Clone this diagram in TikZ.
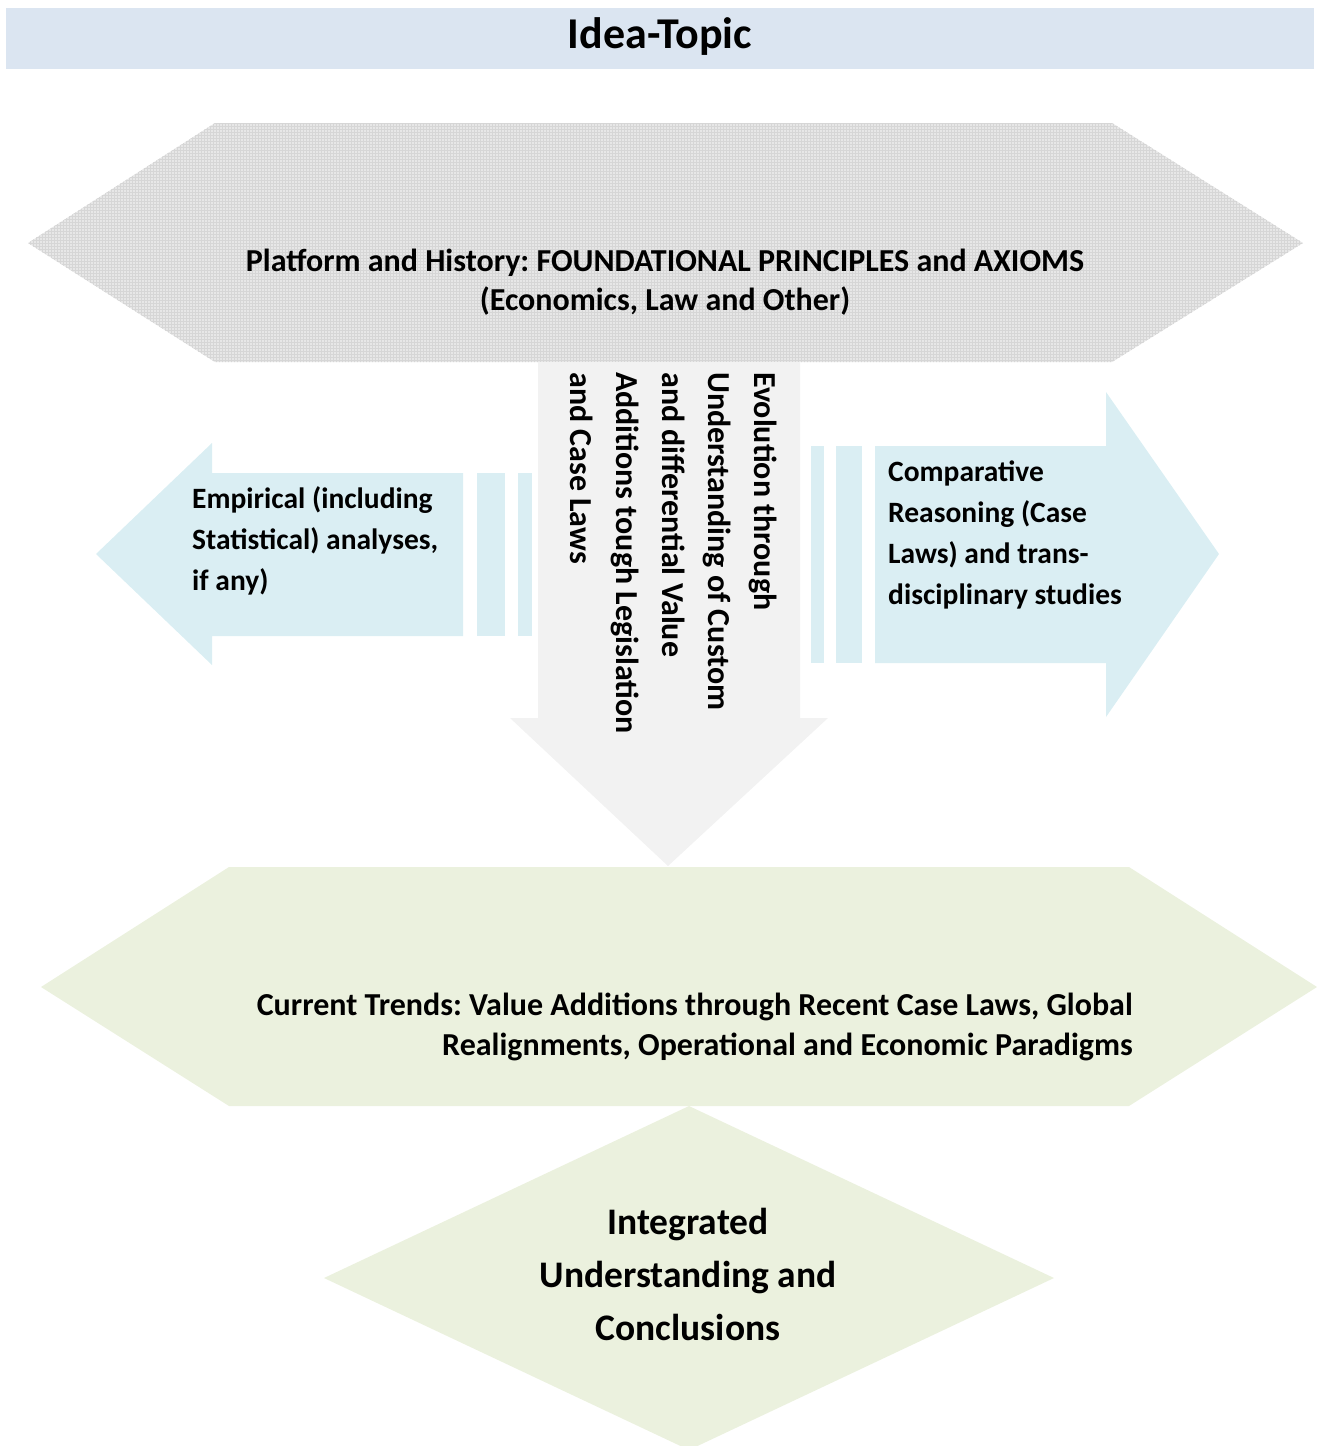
\documentclass[tikz,border=0pt]{standalone}
\usepackage{fontspec}
\usetikzlibrary{patterns}
\setmainfont{Carlito}
\frenchspacing
\definecolor{bannerfill}{HTML}{DBE5F1}
\definecolor{hexgray}{HTML}{E7E7E7}
\definecolor{hexgrid}{HTML}{D6D6D6}
\definecolor{downgray}{HTML}{F2F2F2}
\definecolor{sideblue}{HTML}{DAEEF3}
\definecolor{hexgreen}{HTML}{EBF1DE}
\begin{document}
\begin{tikzpicture}[x=1pt,y=-1pt,
  txt/.style={font=\bfseries\fontsize{29.5}{41}\selectfont, inner sep=0pt, text=black}]
\useasboundingbox (0,0) rectangle (1319,1446);
% banner
\fill[bannerfill] (6,8) rectangle (1314,69);
\node[txt, font=\bfseries\fontsize{44}{50}\selectfont] (title) at (660,37) {Idea-Topic};
% top hexagon
\fill[hexgray] (28,243) -- (215,123) -- (1112,123) -- (1303,243) -- (1112,362) -- (215,362) -- cycle;
\fill[pattern=grid, pattern color=hexgrid] (28,243) -- (215,123) -- (1112,123) -- (1303,243) -- (1112,362) -- (215,362) -- cycle;
\node[txt, align=center, font=\bfseries\fontsize{32}{39}\selectfont] (platform) at (665,282)
  {Platform and History: FOUNDATIONAL PRINCIPLES and AXIOMS\\(Economics, Law and Other)};
% down arrow
\fill[downgray] (538,362) -- (800,362) -- (800,718) -- (828,718) -- (668,866) -- (510,718) -- (538,718) -- cycle;
\node[txt, align=left, rotate=-90, anchor=west, font=\bfseries\fontsize{32}{46}\selectfont] (evolution) at (674,372)
  {Evolution through\\Understanding of Custom\\and differential Value\\Additions tough Legislation\\and Case Laws};
% left arrow
\fill[sideblue] (463,473) -- (212,473) -- (212,443) -- (96,554) -- (212,665) -- (212,636) -- (463,636) -- cycle;
\fill[sideblue] (477,473) rectangle (505,636);
\fill[sideblue] (518,473) rectangle (532,636);
\node[txt, align=left, anchor=west] (empirical) at (192,541)
  {Empirical (including\\Statistical) analyses,\\if any)};
% right arrow
\fill[sideblue] (875,446) -- (1106,446) -- (1106,392) -- (1219,554) -- (1106,717) -- (1106,663) -- (875,663) -- cycle;
\fill[sideblue] (811,446) rectangle (824,663);
\fill[sideblue] (836,446) rectangle (862,663);
\node[txt, align=left, anchor=west] (comparative) at (888,535)
  {Comparative\\Reasoning (Case\\Laws) and trans-\\disciplinary studies};
% bottom hexagon
\fill[hexgreen] (41,987) -- (229,867) -- (1129,867) -- (1317,987) -- (1129,1106) -- (229,1106) -- cycle;
\node[txt, align=right, anchor=east, font=\bfseries\fontsize{32}{40}\selectfont] (trends) at (1133,1027)
  {Current Trends: Value Additions through Recent Case Laws, Global\\Realignments, Operational and Economic Paradigms};
% diamond
\fill[hexgreen] (689,1106) -- (1054,1278) -- (689,1450) -- (324,1278) -- cycle;
\node[txt, align=center, font=\bfseries\fontsize{37.5}{53}\selectfont] (integrated) at (688,1274)
  {Integrated\\Understanding and\\Conclusions};
\end{tikzpicture}
\end{document}
